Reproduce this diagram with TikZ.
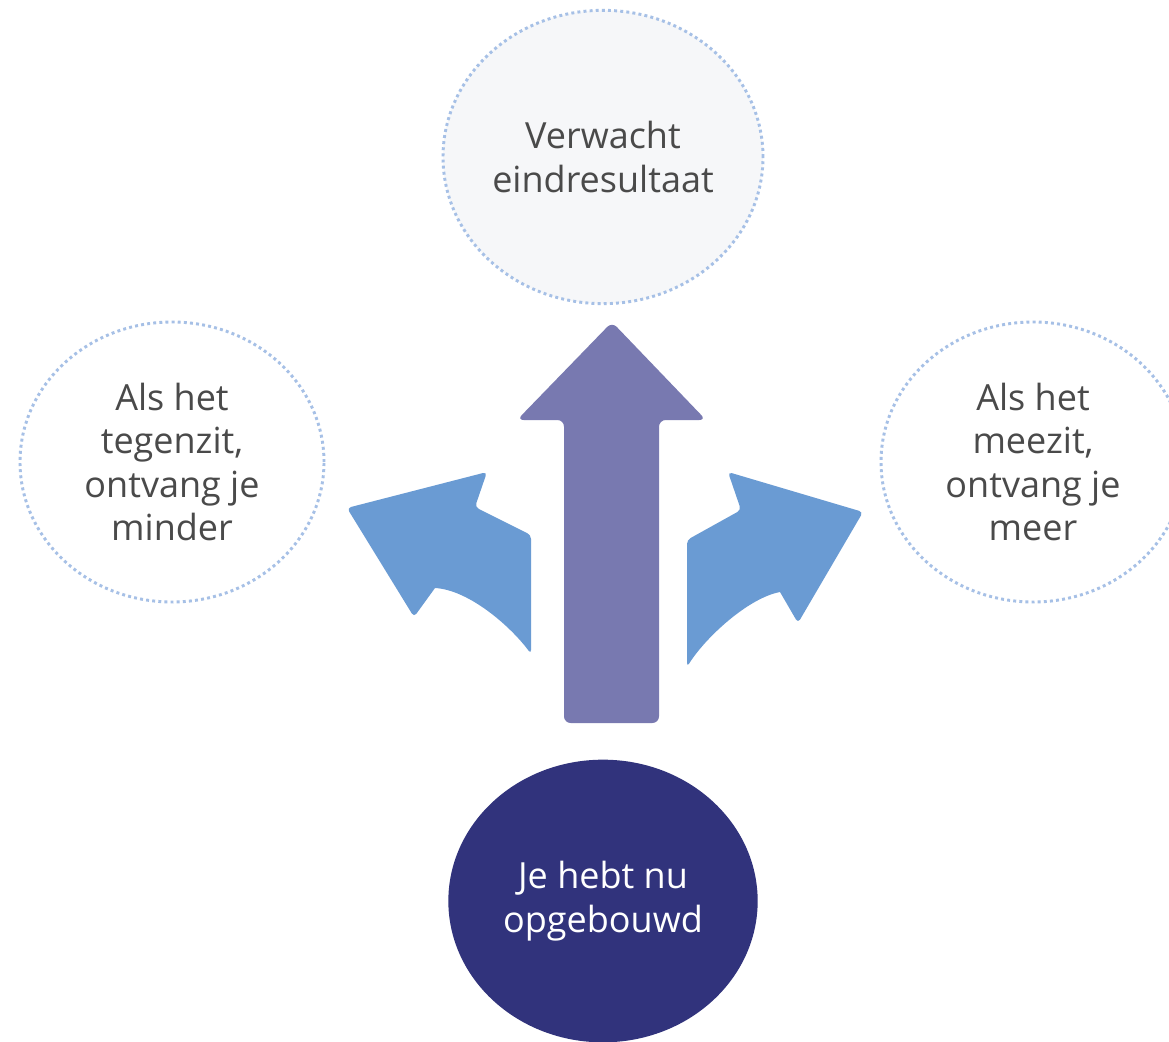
\documentclass[tikz,border=0pt]{standalone}
\usepackage{fontspec}
\setmainfont{Open Sans}
\usetikzlibrary{shapes.geometric}
\definecolor{txt}{HTML}{4A4A4A}
\definecolor{dotc}{HTML}{A6C0E6}
\definecolor{topfill}{HTML}{F6F7F9}
\definecolor{navy}{HTML}{31337C}
\definecolor{purp}{HTML}{7879B0}
\definecolor{blu}{HTML}{6A9BD3}
\tikzset{
  dotring/.style={ellipse, draw=dotc, line width=2.2pt, dash pattern=on 2.2pt off 2.4pt,
     text=txt, align=center, inner sep=0pt, font=\fontsize{27}{32.5}\selectfont},
}
\begin{document}
\begin{tikzpicture}[x=0.75pt,y=-0.75pt]
\useasboundingbox (0,0) rectangle (1169,1041);
\clip (0,0) rectangle (1169,1041);
\fill[white] (0,0) rectangle (1169,1041);
% circles
\node[dotring, fill=topfill, minimum width=240pt, minimum height=220pt] (top) at (603,157) {Verwacht\\eindresultaat};
\node[dotring, fill=white, minimum width=228pt, minimum height=210pt] (left) at (172,462) {Als het\\tegenzit,\\ontvang je\\minder};
\node[dotring, fill=white, minimum width=228pt, minimum height=210pt] (right) at (1033,462) {Als het\\meezit,\\ontvang je\\meer};
\node[ellipse, fill=navy, text=white, align=center, inner sep=0pt, minimum width=232pt, minimum height=212pt,
      font=\fontsize{27}{32.5}\selectfont] (base) at (603,901) {Je hebt nu\\opgebouwd};
% center arrow
\fill[purp, rounded corners=5pt] (612,322) -- (706,420) -- (659,420) -- (659,723) -- (564,723) -- (564,420) -- (517,420) -- cycle;
% left arrow
\fill[blu, rounded corners=3pt] (347,508) -- (487,472) -- (475,507) -- (531,535) -- (531,654)
   [sharp corners] .. controls (512,628) and (470,590) .. (435,588) [rounded corners=3pt] -- (414,617) -- cycle;
% right arrow
\fill[blu, rounded corners=3pt] (863,512) -- (728,472) -- (741,510) -- (687,540) -- (687,667)
   [sharp corners] .. controls (705,638) and (748,598) .. (780,592) [rounded corners=3pt] -- (798,623) -- cycle;
\end{tikzpicture}
\end{document}
